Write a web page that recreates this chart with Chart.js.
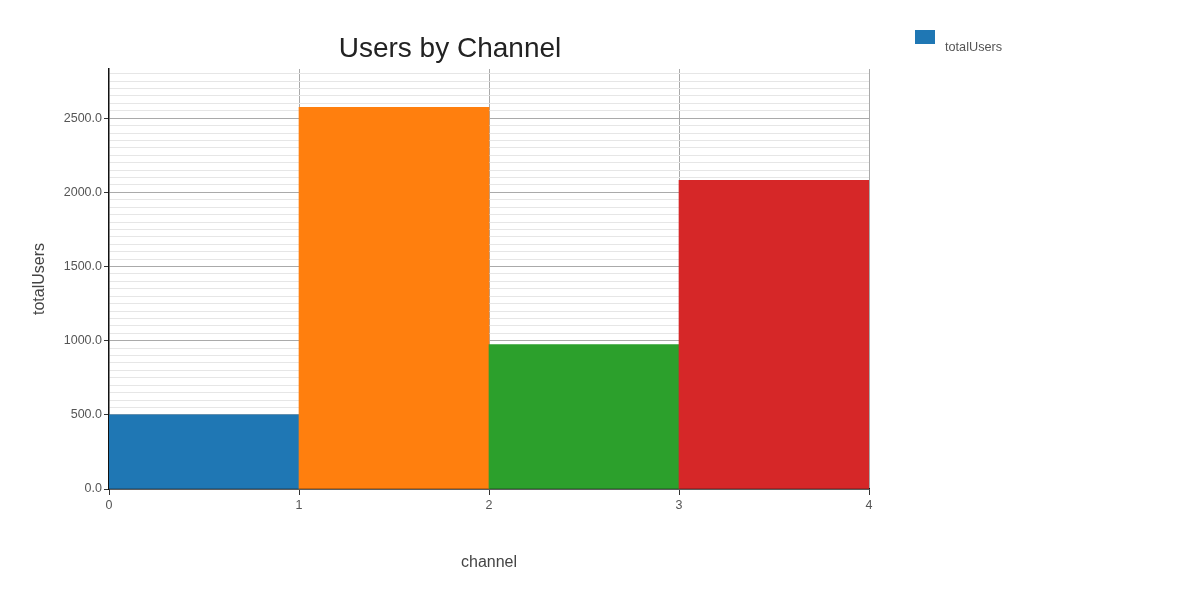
<!DOCTYPE html>
<html>
<head>
<meta charset="utf-8">
<script src="https://cdn.jsdelivr.net/npm/chart.js@4"></script>
<style>
html,body{margin:0;padding:0;background:#fff;}
#wrap{width:1200px;height:600px;position:relative;}
</style>
</head>
<body>
<div id="wrap"><canvas id="c" width="1200" height="600"></canvas></div>
<script>
const categories = [0.5, 1.5, 2.5, 3.5];
const totalUsers = [500, 2574, 973, 2081];
const barColors = ['#1f77b4', '#ff7f0e', '#2ca02c', '#d62728'];
const xTicks = [0, 1, 2, 3, 4];
const yMax = 2832;

const FONT = '"Liberation Sans", Arial, Helvetica, sans-serif';

const legendPlugin = {
  id: 'customLegend',
  afterDraw(chart) {
    const ctx = chart.ctx;
    ctx.save();
    ctx.fillStyle = barColors[0];
    ctx.fillRect(915, 30, 20, 14);
    ctx.fillStyle = '#555';
    ctx.font = '12.7px ' + FONT;
    ctx.textBaseline = 'middle';
    ctx.textAlign = 'left';
    ctx.fillText(chart.data.datasets[0].label, 945, 47.5);
    ctx.restore();
  }
};

new Chart(document.getElementById('c'), {
  type: 'bar',
  data: {
    datasets: [{
      label: 'totalUsers',
      data: categories.map((x, i) => ({x: x, y: totalUsers[i]})),
      backgroundColor: barColors,
      borderWidth: 0,
      barPercentage: 1,
      categoryPercentage: 1
    }]
  },
  options: {
    responsive: false,
    animation: false,
    devicePixelRatio: 1,
    layout: {padding: {left: 0, right: 300, top: 0, bottom: 0}},
    plugins: {
      legend: {display: false},
      tooltip: {enabled: false},
      title: {
        display: true,
        text: 'Users by Channel',
        color: '#222',
        font: {family: FONT, size: 28, weight: 'normal', lineHeight: 1.2},
        padding: {top: 32, bottom: 3.4}
      }
    },
    scales: {
      x: {
        type: 'linear',
        min: 0,
        max: 4,
        offset: false,
        afterBuildTicks: (s) => { s.ticks = xTicks.map(v => ({value: v})); },
        afterFit: (s) => { s.height = 111; },
        ticks: {
          color: '#555',
          font: {family: FONT, size: 12.5},
          padding: 3,
          maxRotation: 0,
          callback: (v) => String(v)
        },
        grid: {
          offset: false,
          color: (c) => c.tick && c.tick.value === 0 ? 'rgba(0,0,0,0)' : '#aaa',
          tickColor: '#333',
          tickLength: 6,
          lineWidth: 1
        },
        border: {color: '#111', width: 1.5},
        title: {
          display: true,
          text: 'channel',
          color: '#444',
          font: {family: FONT, size: 16},
          padding: {top: 0, bottom: 27.4}
        }
      },
      y: {
        type: 'linear',
        min: 0,
        max: yMax,
        afterBuildTicks: (s) => {
          const t = [];
          for (let v = 0; v <= yMax; v += 50) t.push({value: v});
          s.ticks = t;
        },
        afterFit: (s) => { s.width = 109; },
        ticks: {
          color: '#555',
          font: {family: FONT, size: 12.5},
          padding: 2,
          autoSkip: false,
          callback: (v) => (v % 500 === 0 ? v.toFixed(1) : '')
        },
        grid: {
          color: (c) => (c.tick && c.tick.value % 500 === 0) ? '#aaa' : '#e6e6e6',
          tickColor: (c) => (c.tick && c.tick.value % 500 === 0) ? '#333' : 'rgba(0,0,0,0)',
          tickLength: 5,
          lineWidth: 1
        },
        border: {color: '#111', width: 1.5},
        title: {
          display: true,
          text: 'totalUsers',
          color: '#444',
          font: {family: FONT, size: 16},
          padding: {top: 30.4, bottom: 0}
        }
      },
      yRight: {
        type: 'linear',
        position: 'right',
        min: 0,
        max: yMax,
        afterFit: (s) => { s.width = 31; },
        ticks: {display: false},
        grid: {display: false},
        border: {display: false}
      }
    }
  },
  plugins: [legendPlugin]
});
</script>
</body>
</html>
